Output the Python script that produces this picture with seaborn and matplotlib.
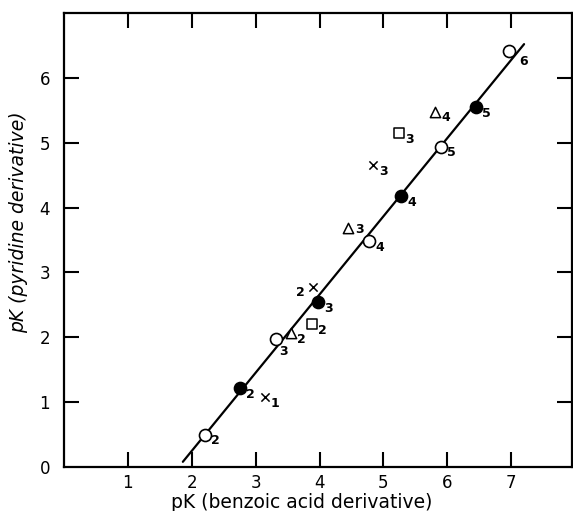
import numpy as np
import pandas as pd
import matplotlib
matplotlib.use("Agg")
import matplotlib.pyplot as plt
import seaborn as sns

# pK values: x = benzoic acid derivative, y = pyridine derivative
open_x = [2.20, 3.31, 4.78, 5.90, 6.97]
open_y = [0.50, 1.98, 3.48, 4.94, 6.42]
open_lab = ['2', '3', '4', '5', '6']

filled_x = [2.75, 3.97, 5.28, 6.45]
filled_y = [1.22, 2.54, 4.18, 5.55]
filled_lab = ['2', '3', '4', '5']

tri_x = [3.55, 4.45, 5.81]
tri_y = [2.06, 3.69, 5.48]
tri_lab = ['2', '3', '4']

sq_x = [3.88, 5.25]
sq_y = [2.20, 5.15]
sq_lab = ['2', '3']

cross_x = [3.14, 3.89, 4.83]
cross_y = [1.08, 2.77, 4.65]
cross_lab = ['1', '2', '3']

line_x = [1.86, 7.20]
line_y = [0.08, 6.52]

xticks = [1, 2, 3, 4, 5, 6, 7]
yticks = [0, 1, 2, 3, 4, 5, 6]

frames = []
for kind, xs, ys, labs in [('open', open_x, open_y, open_lab),
                           ('filled', filled_x, filled_y, filled_lab),
                           ('tri', tri_x, tri_y, tri_lab),
                           ('sq', sq_x, sq_y, sq_lab),
                           ('cross', cross_x, cross_y, cross_lab)]:
    frames.append(pd.DataFrame({'x': xs, 'y': ys, 'lab': labs, 'kind': kind}))
df = pd.concat(frames, ignore_index=True)

sns.set_style("ticks")
plt.rcParams['font.family'] = ['DejaVu Sans']
for k in ['text.color', 'axes.labelcolor', 'xtick.color', 'ytick.color', 'axes.edgecolor']:
    plt.rcParams[k] = 'black'

fig = plt.figure(figsize=(5.73, 5.11), dpi=100)
ax = fig.add_axes([64 / 573, 44 / 511, 508 / 573, 454 / 511])

sns.lineplot(x=line_x, y=line_y, ax=ax, color='black', linewidth=1.6)

styles = {
    'open': dict(marker='o', s=75, facecolor='white', edgecolor='black', linewidth=1.2),
    'filled': dict(marker='o', s=75, facecolor='black', edgecolor='black', linewidth=1.2),
    'tri': dict(marker='^', s=55, facecolor='white', edgecolor='black', linewidth=1.1),
    'sq': dict(marker='s', s=45, facecolor='white', edgecolor='black', linewidth=1.1),
    'cross': dict(marker='x', s=35, color='black', linewidth=1.1),
}
for kind, st in styles.items():
    sub = df[df['kind'] == kind]
    sns.scatterplot(data=sub, x='x', y='y', ax=ax, zorder=3, legend=False, **st)

# label offsets in points (most sit lower right of the marker)
offsets = {('open', '3'): (6, -9), ('open', '6'): (10, -8), ('tri', '3'): (8, -1),
           ('cross', '2'): (-9, -4)}
for _, r in df.iterrows():
    dx, dy = offsets.get((r['kind'], r['lab']), (7.5, -4.5))
    ax.annotate(r['lab'], (r['x'], r['y']), xytext=(dx, dy), textcoords='offset points',
                ha='center', va='center', fontsize=9, fontweight='bold')

ax.set_xlim(0, 7.95)
ax.set_ylim(0, 7)
ax.set_xticks(xticks)
ax.set_yticks(yticks)
ax.tick_params(axis='both', direction='in', length=11, width=1.5, labelsize=12,
               top=True, right=True)
ax.tick_params(axis='x', pad=5)
ax.tick_params(axis='y', pad=10)
# the corner 0 has no tick mark
ax.yaxis.get_major_ticks()[0].tick1line.set_visible(False)
ax.yaxis.get_major_ticks()[0].tick2line.set_visible(False)
for sp in ax.spines.values():
    sp.set_linewidth(1.6)
    sp.set_visible(True)

ax.set_xlabel('pK (benzoic acid derivative)', fontsize=13.5)
ax.set_ylabel('pK (pyridine derivative)', fontsize=13.5, fontstyle='italic')
ax.xaxis.set_label_coords(0.468, -0.057)
ax.yaxis.set_label_coords(-0.071, 0.54)

fig.savefig('out.png', dpi=100)
